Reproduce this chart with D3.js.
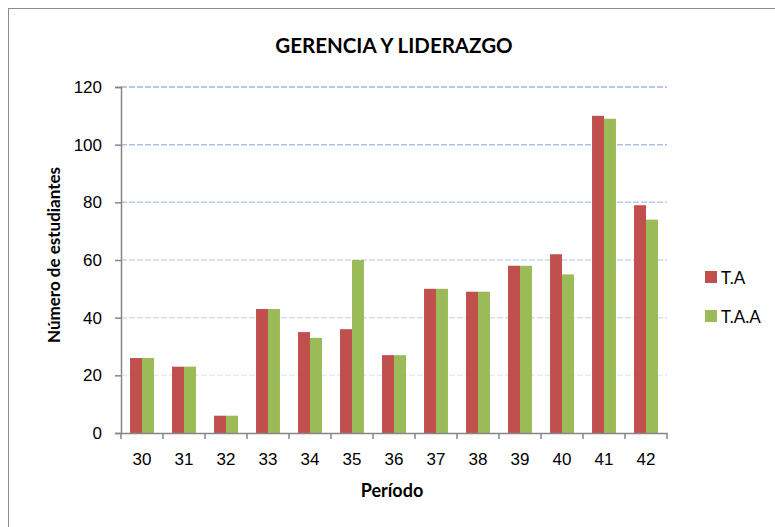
<!DOCTYPE html>
<html>
<head>
<meta charset="utf-8">
<script src="https://cdn.jsdelivr.net/npm/d3@7"></script>
<style>
  body { margin: 0; background: #fff; }
  svg { font-family: Lato, "Open Sans", sans-serif; }
</style>
</head>
<body>
<svg id="chart" width="775" height="527"></svg>
<script>
var periodos = ["30","31","32","33","34","35","36","37","38","39","40","41","42"];
var serieTA  = [26, 23, 6, 43, 35, 36, 27, 50, 49, 58, 62, 110, 79];
var serieTAA = [26, 23, 6, 43, 33, 60, 27, 50, 49, 58, 55, 109, 74];
var series = ["T.A", "T.A.A"];
var colores = ["#c0504d", "#9bbb59"];
var yTicks = [0, 20, 40, 60, 80, 100, 120];

var svg = d3.select("#chart");

// marco del grafico
svg.append("rect")
  .attr("x", 8.5).attr("y", 8.5)
  .attr("width", 800).attr("height", 560)
  .attr("fill", "none")
  .attr("stroke", "#8c8c8c");

var plotLeft = 121, plotRight = 667, plotTop = 87, plotBottom = 433;

var x = d3.scaleBand().domain(periodos).range([plotLeft, plotRight]).paddingInner(0.43).paddingOuter(0.215);
var xSub = d3.scaleBand().domain(series).range([0, x.bandwidth()]);
var y = d3.scaleLinear().domain([0, 120]).range([plotBottom, plotTop]);

// lineas de cuadricula (mas claras hacia abajo)
var gridColor = d3.scaleLinear().domain([20, 120]).range(["#e3ebf7", "#9db7e3"]);
svg.append("g")
  .selectAll("line")
  .data(yTicks.filter(function(d) { return d > 0; }))
  .enter()
  .append("line")
  .attr("x1", plotLeft).attr("x2", plotRight)
  .attr("y1", function(d) { return y(d); })
  .attr("y2", function(d) { return y(d); })
  .attr("stroke", function(d) { return gridColor(d); })
  .attr("stroke-width", 1.5)
  .attr("stroke-dasharray", "6,2");

// barras
var datos = periodos.map(function(p, i) {
  return { periodo: p, valores: [serieTA[i], serieTAA[i]] };
});
var grupos = svg.append("g")
  .selectAll("g")
  .data(datos)
  .enter()
  .append("g")
  .attr("transform", function(d) { return "translate(" + x(d.periodo) + ",0)"; });
grupos.selectAll("rect")
  .data(function(d) { return d.valores.map(function(v, j) { return { serie: series[j], v: v, c: colores[j] }; }); })
  .enter()
  .append("rect")
  .attr("x", function(d) { return xSub(d.serie); })
  .attr("width", xSub.bandwidth())
  .attr("y", function(d) { return y(d.v); })
  .attr("height", function(d) { return plotBottom - y(d.v); })
  .attr("fill", function(d) { return d.c; });

// eje y
var yAxis = svg.append("g")
  .attr("transform", "translate(" + plotLeft + ",0)")
  .call(d3.axisLeft(y).tickValues(yTicks).tickSize(6).tickPadding(13));
yAxis.select(".domain").attr("stroke", "#868686").attr("stroke-width", 1.5);
yAxis.selectAll(".tick line").attr("stroke", "#868686").attr("stroke-width", 1.5);
yAxis.selectAll(".tick text").attr("font-size", "17px").attr("fill", "#000");

// eje x
var xAxis = svg.append("g")
  .attr("transform", "translate(0," + plotBottom + ")")
  .call(d3.axisBottom(x).tickSize(0).tickPadding(20));
xAxis.select(".domain").attr("stroke", "#868686").attr("stroke-width", 1.5);
xAxis.selectAll(".tick text").attr("font-size", "17px").attr("fill", "#000");
// marcas entre categorias
var bordes = periodos.map(function(p) { return x(p) - x.step() * x.paddingInner() / 2; });
bordes.push(plotRight);
svg.append("g")
  .selectAll("line")
  .data(bordes)
  .enter()
  .append("line")
  .attr("x1", function(d) { return d; }).attr("x2", function(d) { return d; })
  .attr("y1", plotBottom).attr("y2", plotBottom + 6)
  .attr("stroke", "#868686")
  .attr("stroke-width", 1.5);

// titulos
svg.append("text")
  .attr("x", 394).attr("y", 53)
  .attr("text-anchor", "middle")
  .style("font-size", "20.5px").style("font-weight", "bold")
  .text("GERENCIA Y LIDERAZGO");
svg.append("text")
  .attr("x", 392).attr("y", 497)
  .attr("text-anchor", "middle")
  .style("font-size", "18px").style("font-weight", "bold")
  .text("Período");
svg.append("text")
  .attr("transform", "translate(60,255) rotate(-90)")
  .attr("text-anchor", "middle")
  .style("font-size", "17px").style("font-weight", "bold")
  .text("Número de estudiantes");

// leyenda
var leyenda = svg.append("g")
  .selectAll("g")
  .data(series)
  .enter()
  .append("g")
  .attr("transform", function(d, i) { return "translate(705," + (271 + i * 39) + ")"; });
leyenda.append("rect")
  .attr("width", 12).attr("height", 12)
  .attr("fill", function(d, i) { return colores[i]; });
leyenda.append("text")
  .attr("x", 16).attr("y", 6)
  .attr("dominant-baseline", "central")
  .style("font-size", "17px")
  .text(function(d) { return d; });
</script>
</body>
</html>
